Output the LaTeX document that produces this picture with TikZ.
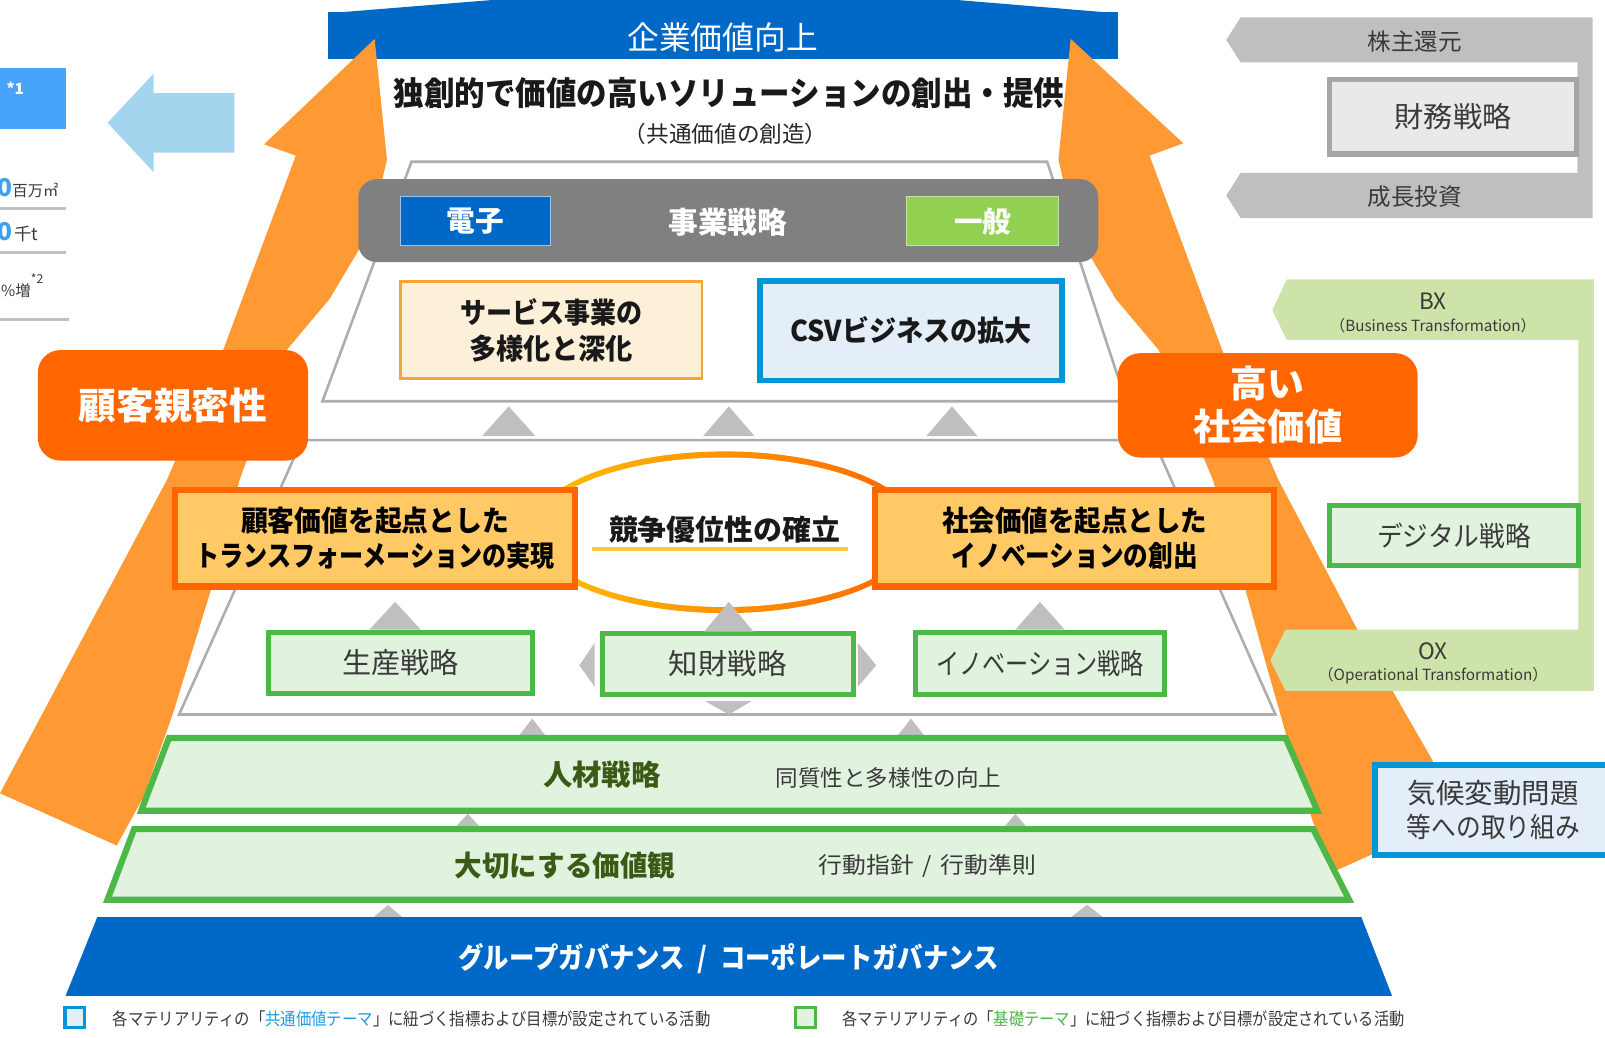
\documentclass[tikz,border=0pt]{standalone}
\usepackage{fontspec}
\setmainfont{Noto Sans CJK JP}
\usepackage{graphicx}
\definecolor{bluebar}{HTML}{0068C6}
\definecolor{arroworange}{HTML}{FF9933}
\definecolor{hotorange}{HTML}{FF6600}
\definecolor{boxgray}{HTML}{808080}
\definecolor{ippan}{HTML}{92D050}
\definecolor{ippanline}{HTML}{C5E0B4}
\definecolor{cream}{HTML}{FDF0D8}
\definecolor{creamline}{HTML}{F4A53A}
\definecolor{csvfill}{HTML}{E3EEF9}
\definecolor{csvline}{HTML}{0096D8}
\definecolor{ofill}{HTML}{FFC966}
\definecolor{gline}{HTML}{4DB848}
\definecolor{gfill}{HTML}{E1F3DF}
\definecolor{gtext}{HTML}{3B5A16}
\definecolor{trigray}{HTML}{BFBFBF}
\definecolor{pyrline}{HTML}{ADADAD}
\definecolor{bandgray}{HTML}{BFBFBF}
\definecolor{darktext}{HTML}{3A3A3A}
\definecolor{finline}{HTML}{A6A6A6}
\definecolor{finfill}{HTML}{E8E9EB}
\definecolor{bandgreen}{HTML}{CDE3A9}
\definecolor{lbarrow}{HTML}{A5D5EE}
\definecolor{lbbox}{HTML}{47A4FA}
\definecolor{ringY}{HTML}{FFC000}
\definecolor{ringO}{HTML}{FF6400}
\definecolor{numblue}{HTML}{3FA0F0}
\definecolor{legblue}{HTML}{1E9BE0}
\definecolor{leggreen}{HTML}{4DB848}
\definecolor{sepgray}{HTML}{C0C0C0}
\definecolor{dlineblue}{HTML}{9DC3E6}
\definecolor{uline}{HTML}{FFC83C}
\newcommand\fs[2]{\fontsize{#1}{#2}\selectfont}
\newcommand\fw[2]{\resizebox{#1pt}{\height}{#2}}
\newcommand\uptri[4]{\fill[tri] ({#1-#4},#3) -- (#1,#2) -- ({#1+#4},#3) -- cycle;}
\begin{document}
\begin{tikzpicture}[x=1pt,y=-1pt,
  txt/.style={inner sep=0pt, align=center},
  pyr/.style={fill=white, draw=pyrline, line width=2.5pt},
  tri/.style={fill=trigray},
  gbox/.style={draw=gline, fill=gfill, line width=5pt, inner sep=0pt, text=darktext, font=\fs{28}{34}},
  obox/.style={draw=hotorange, fill=ofill, line width=6pt, inner sep=0pt, align=center, font=\fs{28}{34}\bfseries, text=black},
  rbox/.style={fill=hotorange, rounded corners=22pt, inner sep=0pt, align=center, text=white, font=\fs{36}{42}\bfseries},
  gtrap/.style={draw=gline, fill=gfill, line width=6pt, line join=miter},
  sep/.style={draw=sepgray, line width=3pt},
]
\useasboundingbox (0,0) rectangle (1568,1014);
\begin{scope}
\clip (0,0) rectangle (1568,1014);
\fill[white] (0,0) rectangle (1568,1014);

% ---- left partial elements
\node[fill=lbbox, minimum width=64pt, minimum height=60pt, inner sep=0pt] (lbox) at (32,96) {};
\node[txt, text=white, font=\fs{15}{15}\bfseries] (star1) at (15,86) {*1};
\fill[lbarrow] (105,120) -- (150,72) -- (150,91) -- (229,91) -- (229,149) -- (150,149) -- (150,168) -- cycle;
\node[txt, anchor=base west, text=numblue, font=\fs{24}{24}\bfseries] (num1) at (-3,192) {0};
\node[txt, anchor=base west, text=darktext, font=\fs{15}{15}] (unit1) at (12,192) {百万㎡};
\draw[sep] (0,204) -- (64,204);
\node[txt, anchor=base west, text=numblue, font=\fs{24}{24}\bfseries] (num2) at (-3,235) {0};
\node[txt, anchor=base west, text=darktext, font=\fs{17}{17}] (unit2) at (14,235) {千t};
\draw[sep] (0,247) -- (64,247);
\node[txt, anchor=base west, text=darktext, font=\fs{15}{15}] (unit3) at (1,290) {\%増};
\node[txt, anchor=base west, text=darktext, font=\fs{12}{12}] (star2) at (30,277) {*2};
\draw[sep] (0,312) -- (67,312);

% ---- top bar
\fill[bluebar] (320,13) -- (518,-3) -- (899,-3) -- (1092,13) -- cycle;
\node[fill=bluebar, minimum width=772pt, minimum height=46pt, inner sep=0pt] (bar) at (706,35) {};
\node[txt, text=white, font=\fs{31}{31}] (kigyo) at (706,37) {企業価値向上};

% ---- big orange arrows
\fill[arroworange] (366,38) -- (378,156) -- (362,225) -- (322,292) -- (280,342) -- (234,469) -- (208,570) -- (169,697) -- (140,779) -- (114,826) -- (0,775) -- (163,469) -- (218,342) -- (289,152) -- (258,141) -- cycle;
\fill[arroworange] (1046,38) -- (1034,156) -- (1050,225) -- (1090,292) -- (1132,342) -- (1185,469) -- (1215,570) -- (1240,660) -- (1260,730) -- (1283,804) -- (1306,850) -- (1425,797) -- (1399,742) -- (1326,615) -- (1249,469) -- (1194,342) -- (1123,152) -- (1156,140) -- cycle;

% ---- title
\node[txt, text=black!90, font=\fs{32}{32}\bfseries] (title) at (712,91) {\fw{655}{独創的で価値の高いソリューションの創出・提供}};
\node[txt, text=black!85, font=\fs{22}{22}] (subtitle) at (709,131) {\fw{199}{（共通価値の創造）}};

% ---- top pyramid level
\draw[pyr] (402,158) -- (1023,158) -- (1100,392) -- (315,392) -- cycle;
\node[fill=boxgray, rounded corners=18pt, minimum width=723pt, minimum height=81pt, inner sep=0pt] (biz) at (711.5,215.5) {};
\node[fill=bluebar, draw=dlineblue, line width=1pt, minimum width=147pt, minimum height=48pt, inner sep=0pt, text=white, font=\fs{28}{28}\bfseries] (denshi) at (464.5,216) {電子};
\node[txt, text=white, font=\fs{29}{29}\bfseries] (bizt) at (711,217) {事業戦略};
\node[fill=ippan, draw=ippanline, line width=1pt, minimum width=148pt, minimum height=48pt, inner sep=0pt, text=white, font=\fs{28}{28}\bfseries] (ippan) at (960,216) {一般};
\node[draw=creamline, fill=cream, line width=2.5pt, minimum width=295pt, minimum height=95pt, inner sep=0pt, align=center, text=black!90, font=\fs{28}{35}\bfseries] (service) at (538.5,322.5) {\fw{178}{サービス事業の}\\\fw{160}{多様化と深化}};
\node[draw=csvline, fill=csvfill, line width=5pt, minimum width=295pt, minimum height=97pt, inner sep=0pt, text=black!90, font=\fs{28}{28}\bfseries] (csv) at (890,323) {\fw{236}{CSVビジネスの拡大}};

\uptri{497}{397}{426}{26}
\uptri{712}{397}{426}{25}
\uptri{930}{397}{426}{25}

% ---- middle pyramid level
\draw[pyr] (295,430) -- (1127,430) -- (1246,698) -- (175,698) -- cycle;
\shade[left color=ringY, right color=ringO] (708,520) ellipse [x radius=190pt, y radius=79pt];
\fill[white] (708,520) ellipse [x radius=184pt, y radius=73pt];
\node[txt, text=black!90, font=\fs{28}{28}\bfseries] (compete) at (708,517) {\fw{226}{競争優位性の確立}};
\draw[uline, line width=4pt] (578,536) -- (828,536);
\node[obox, minimum width=391pt, minimum height=94pt] (custval) at (366.5,526) {\fw{262}{顧客価値を起点とした}\\\fw{351}{トランスフォーメーションの実現}};
\node[obox, minimum width=390pt, minimum height=94pt] (socval) at (1050,526) {\fw{259}{社会価値を起点とした}\\\fw{240}{イノベーションの創出}};

\uptri{386}{588}{615}{25}
\uptri{1016}{588}{615}{24}
\node[gbox, minimum width=258pt, minimum height=60pt] (prod) at (391.5,647.5) {\fw{114}{生産戦略}};
\node[gbox, minimum width=245pt, minimum height=60pt] (ip) at (711,648.5) {\fw{115}{知財戦略}};
\node[gbox, minimum width=243pt, minimum height=61pt] (innov) at (1016,648) {\fw{203}{イノベーション戦略}};
\uptri{712}{588}{617}{24}
\fill[tri] (566,650) -- (581,628) -- (581,671) -- cycle;
\fill[tri] (856,650) -- (838,628) -- (838,671) -- cycle;
\fill[tri] (689,685) -- (734,685) -- (712,698) -- cycle;

% ---- lower levels
\uptri{520}{702}{720}{14}
\uptri{890}{702}{720}{14}
\draw[gtrap] (165,721) -- (1256,721) -- (1287,792) -- (138,792) -- cycle;
\node[txt, text=gtext, font=\fs{28}{28}\bfseries] (hr) at (588,757) {\fw{115}{人材戦略}};
\node[txt, text=darktext, font=\fs{22}{22}] (hrsub) at (868,760) {\fw{220}{同質性と多様性の向上}};
\uptri{457}{795}{808}{12}
\uptri{992}{795}{808}{11}
\draw[gtrap] (131,810) -- (1283,810) -- (1318,879) -- (105,879) -- cycle;
\node[txt, text=gtext, font=\fs{28}{28}\bfseries] (values) at (552,846) {\fw{215}{大切にする価値観}};
\node[txt, text=darktext, font=\fs{22}{22}] (valsub) at (906,846) {\fw{212}{行動指針\hspace{8pt}/\hspace{8pt}行動準則}};
\uptri{379}{884}{897}{15}
\uptri{1062}{884}{897}{17}
\fill[bluebar] (95,896) -- (1330,896) -- (1360,973) -- (64,973) -- cycle;
\node[txt, text=white, font=\fs{28}{28}\bfseries] (gov) at (712,936) {\fw{528}{グループガバナンス\hspace{14pt}/\hspace{14pt}コーポレートガバナンス}};

% ---- orange labels on arrows
\node[rbox, minimum width=264pt, minimum height=108pt] (intim) at (169,396) {\fw{184}{顧客親密性}};
\node[rbox, minimum width=293pt, minimum height=102pt] (social) at (1238.5,396) {高い\\\fw{146}{社会価値}};

% ---- right side: finance
\fill[bandgray] (1212,17) -- (1556,17) -- (1556,213) -- (1212,213) -- (1198,191) -- (1212,169) -- (1541,169) -- (1541,61) -- (1212,61) -- (1198,39) -- cycle;
\node[txt, text=darktext, font=\fs{23}{23}] (kabu) at (1382,41) {株主還元};
\node[txt, text=darktext, font=\fs{23}{23}] (seicho) at (1382,192) {成長投資};
\node[draw=finline, fill=finfill, line width=5pt, minimum width=242pt, minimum height=73pt, inner sep=0pt, text=darktext, font=\fs{28}{28}] (fin) at (1419.5,114) {\fw{114}{財務戦略}};

% ---- right side: BX / OX
\fill[bandgreen] (1257,273) -- (1557,273) -- (1557,675) -- (1256,675) -- (1241,645) -- (1256,615) -- (1542,615) -- (1542,332) -- (1257,332) -- (1243,303) -- cycle;
\node[txt, text=darktext, font=\fs{22}{22}] (bx) at (1400,294) {BX};
\node[txt, text=darktext, font=\fs{15}{15}] (bxsub) at (1400,318) {\fw{201}{（Business Transformation）}};
\node[txt, text=darktext, font=\fs{22}{22}] (ox) at (1400,636) {OX};
\node[txt, text=darktext, font=\fs{15}{15}] (oxsub) at (1400,660) {\fw{224}{（Operational Transformation）}};
\node[gbox, minimum width=244pt, minimum height=59pt, font=\fs{27}{27}] (digital) at (1420.5,523) {\fw{150}{デジタル戦略}};
\node[draw=csvline, fill=csvfill, line width=6pt, minimum width=232pt, minimum height=88pt, inner sep=0pt, align=center, text=darktext, font=\fs{27}{33}] (climate) at (1459,791) {\fw{167}{気候変動問題}\\\fw{169}{等への取り組み}};

% ---- legend
\node[draw=csvline, fill=csvfill, line width=3pt, minimum size=19pt, inner sep=0pt] (lg1) at (73,994) {};
\node[txt, anchor=west, text=darktext, font=\fs{17}{17}] (lgt1) at (110,995) {\fw{584}{各マテリアリティの「\textcolor{legblue}{共通価値テーマ}」に紐づく指標および目標が設定されている活動}};
\node[draw=gline, fill=gfill, line width=3pt, minimum size=19pt, inner sep=0pt] (lg2) at (787,994) {};
\node[txt, anchor=west, text=darktext, font=\fs{17}{17}] (lgt2) at (823,995) {\fw{549}{各マテリアリティの「\textcolor{leggreen}{基礎テーマ}」に紐づく指標および目標が設定されている活動}};
\end{scope}
\end{tikzpicture}
\end{document}
